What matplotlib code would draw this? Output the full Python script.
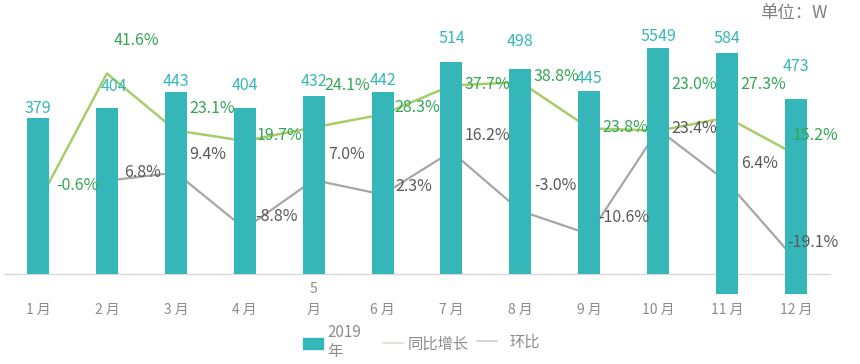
import matplotlib
matplotlib.use('Agg')
import matplotlib.pyplot as plt
from matplotlib.patches import Patch
from matplotlib.lines import Line2D
import numpy as np

plt.rcParams['font.family'] = ['Noto Sans CJK SC', 'DejaVu Sans']

# data
months = ['1 月', '2 月', '3 月', '4 月', '5\n月', '6 月', '7 月', '8 月', '9 月', '10 月', '11 月', '12 月']
sales = [379, 404, 443, 404, 432, 442, 514, 498, 445, 549, 584, 473]
sales_labels = ['379', '404', '443', '404', '432', '442', '514', '498', '445', '5549', '584', '473']
yoy = [-0.6, 41.6, 23.1, 19.7, 24.1, 28.3, 37.7, 38.8, 23.8, 23.0, 27.3, 15.2]
mom = [np.nan, 6.8, 9.4, -8.8, 7.0, 2.3, 16.2, -3.0, -10.6, 23.4, 6.4, -19.1]

# layout tweaks (pixels) for labels, and the odd downward shift of the last two bars
bar_shift = [0] * 10 + [-48, -48]
bar_lbl_dy = [9, 21, 10, 22, 15, 11, 24, 27, 12, 11, 15, 32]
bar_lbl_dx = [0, 7, 0, 0, 0, 0, 0, 0, 0, 0, 0, 0]
yoy_lbl_dx = [39, 30, 36, 35, 33, 35, 36, 36, 36, 36, 36, 19]
yoy_lbl_dy = [18, 33, 22, 5, 42, 7, 1, 6, 1, 46, 33, 19]
mom_lbl_dx = [0, 36, 32, 32, 33, 31, 36, 35, 35, 36, 32, 17]
mom_lbl_dy = [0, 8, 18, 12, 26, 8, 16, 25, 17, 1, 18, 18]

bar_color = '#35b7b9'
yoy_color = '#a9cc6a'
yoy_text = '#33a653'
mom_color = '#a6a6a6'
mom_text = '#595959'
tick_color = '#8c8c8c'

fig = plt.figure(figsize=(8.6, 3.64), dpi=100)
ax = fig.add_axes([0.0041, 0.1923, 0.9616, 0.7802])
ax2 = ax.twinx()
x = np.arange(len(months))

ax.set_xlim(-0.5, 11.5)
ax.set_ylim(-48.5, 641)
ax2.set_ylim(-30.0, 62.2)

# lines sit behind the bars, labels go on the top axes
ax.set_zorder(2)
ax2.set_zorder(1)
ax.patch.set_visible(False)

ax.bar(x, sales, width=0.32, bottom=bar_shift, color=bar_color, zorder=3)
ax.axhline(0, color='#d9d9d9', lw=1, zorder=2)

ax2.plot(x, yoy, color=yoy_color, lw=1.8)
ax2.plot(x, mom, color=mom_color, lw=1.6)

for i in range(len(x)):
    top = sales[i] + bar_shift[i]
    ax.annotate(sales_labels[i], (x[i], top), xytext=(bar_lbl_dx[i], bar_lbl_dy[i]),
                textcoords='offset pixels', ha='center', va='center',
                color=bar_color, fontsize=11.5, zorder=5)
    ax.annotate(f'{yoy[i]:.1f}%', (x[i], yoy[i]), xycoords=ax2.transData,
                xytext=(yoy_lbl_dx[i], yoy_lbl_dy[i]), textcoords='offset pixels',
                ha='center', va='center', color=yoy_text, fontsize=11.5,
                zorder=6, annotation_clip=False)
    if not np.isnan(mom[i]):
        ax.annotate(f'{mom[i]:.1f}%', (x[i], mom[i]), xycoords=ax2.transData,
                    xytext=(mom_lbl_dx[i], mom_lbl_dy[i]), textcoords='offset pixels',
                    ha='center', va='center', color=mom_text, fontsize=11.5,
                    zorder=6, annotation_clip=False)

# month labels under the axis, bottom aligned so "5\n月" stacks upward
for i, m in enumerate(months):
    ax.annotate(m, (x[i], 0), xytext=(0, -43), textcoords='offset pixels',
                ha='center', va='bottom', color=tick_color, fontsize=10, linespacing=1.6)

for a in (ax, ax2):
    a.set_yticks([])
    a.set_xticks([])
    for s in a.spines.values():
        s.set_visible(False)

fig.text(0.962, 0.964, '单位：W', ha='right', va='center', color='#808080', fontsize=12.5)

# legend split in two so the last entry sits tight against the second
leg_kw = dict(loc='center left', frameon=False, fontsize=11, labelcolor='#8c8c8c',
              handlelength=1.3, handleheight=0.7,
              borderpad=0, borderaxespad=0, labelspacing=0.2)
fig.legend([Patch(color=bar_color), Line2D([], [], color='#d6e3c3', lw=1.2)],
           ['2019\n年', '同比增长'], ncol=2, columnspacing=1.45, handletextpad=0.3,
           bbox_to_anchor=(0.352, 0.06), **leg_kw)
fig.legend([Line2D([], [], color='#cfcfcf', lw=1.2)], ['环比'], handletextpad=0.85,
           bbox_to_anchor=(0.5547, 0.06), **leg_kw)

fig.savefig('out.png', dpi=100)
